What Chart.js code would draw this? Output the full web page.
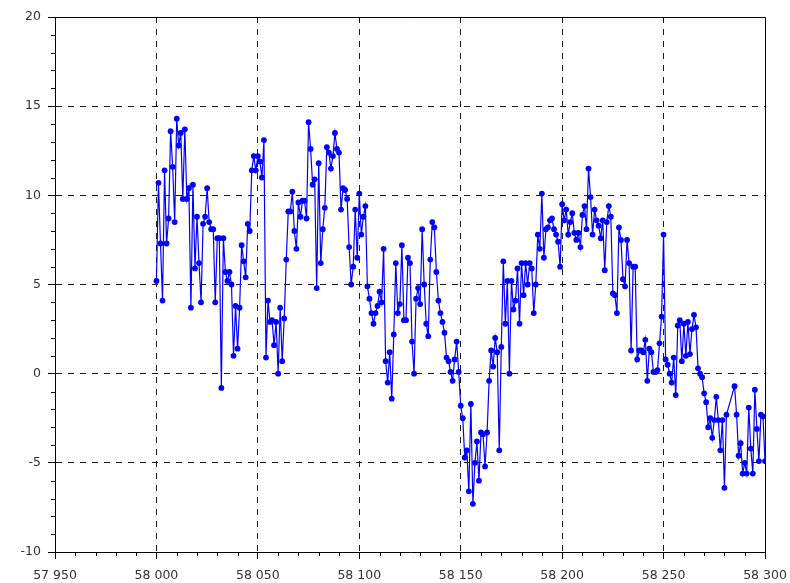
<!DOCTYPE html>
<html>
<head>
<meta charset="utf-8">
<script src="https://cdn.jsdelivr.net/npm/chart.js@4.4.1/dist/chart.umd.min.js"></script>
<style>
  html, body { margin: 0; padding: 0; background: #fff; }
  .chart-container { position: relative; width: 790px; height: 583px; }
</style>
</head>
<body>
<div class="chart-container">
  <canvas id="chart"></canvas>
</div>
<script>
// x range / tick setup
const xMin = 57950, xMax = 58300, xStep = 50, xMinorStep = 10;
const yMin = -10, yMax = 20, yStep = 5, yMinorStep = 1;

// observation days
const days = [
  58000, 58001, 58002, 58003, 58004, 58005, 58006, 58007, 58008, 58009,
  58010, 58011, 58012, 58013, 58014, 58015, 58016, 58017, 58018, 58019,
  58020, 58021, 58022, 58023, 58024, 58025, 58026, 58027, 58028, 58029,
  58030, 58031, 58032, 58033, 58034, 58035, 58036, 58037, 58038, 58039,
  58040, 58041, 58042, 58043, 58044, 58045, 58046, 58047, 58048, 58049,
  58050, 58051, 58052, 58053, 58054, 58055, 58056, 58057, 58058, 58059,
  58060, 58061, 58062, 58063, 58064, 58065, 58066, 58067, 58068, 58069,
  58070, 58071, 58072, 58073, 58074, 58075, 58076, 58077, 58078, 58079,
  58080, 58081, 58082, 58083, 58084, 58085, 58086, 58087, 58088, 58089,
  58090, 58091, 58092, 58093, 58094, 58095, 58096, 58097, 58098, 58099,
  58100, 58101, 58102, 58103, 58104, 58105, 58106, 58107, 58108, 58109,
  58110, 58111, 58112, 58113, 58114, 58115, 58116, 58117, 58118, 58119,
  58120, 58121, 58122, 58123, 58124, 58125, 58126, 58127, 58128, 58129,
  58130, 58131, 58132, 58133, 58134, 58135, 58136, 58137, 58138, 58139,
  58140, 58141, 58142, 58143, 58144, 58145, 58146, 58147, 58148, 58149,
  58150, 58151, 58152, 58153, 58154, 58155, 58156, 58157, 58158, 58159,
  58160, 58161, 58162, 58163, 58164, 58165, 58166, 58167, 58168, 58169,
  58170, 58171, 58172, 58173, 58174, 58175, 58176, 58177, 58178, 58179,
  58180, 58181, 58182, 58183, 58184, 58185, 58186, 58187, 58188, 58189,
  58190, 58191, 58192, 58193, 58194, 58195, 58196, 58197, 58198, 58199,
  58200, 58201, 58202, 58203, 58204, 58205, 58206, 58207, 58208, 58209,
  58210, 58211, 58212, 58213, 58214, 58215, 58216, 58217, 58218, 58219,
  58220, 58221, 58222, 58223, 58224, 58225, 58226, 58227, 58228, 58229,
  58230, 58231, 58232, 58233, 58234, 58235, 58236, 58237, 58238, 58239,
  58240, 58241, 58242, 58243, 58244, 58245, 58246, 58247, 58248, 58249,
  58250, 58251, 58252, 58253, 58254, 58255, 58256, 58257, 58258, 58259,
  58260, 58261, 58262, 58263, 58264, 58265, 58266, 58267, 58268, 58269,
  58270, 58271, 58272, 58273, 58274, 58275, 58276, 58277, 58278, 58279,
  58280, 58281, 58285, 58286, 58287, 58288, 58289, 58290, 58291, 58292,
  58293, 58294, 58295, 58296, 58297, 58298, 58299, 58300
];

// measured values
const values = [
  5.2, 10.7, 7.3, 4.1, 11.4, 7.3, 8.7, 13.6, 11.6, 8.5,
  14.3, 12.8, 13.5, 9.8, 13.7, 9.8, 10.4, 3.7, 10.6, 5.9,
  8.8, 6.2, 4.0, 8.4, 8.8, 10.4, 8.5, 8.1, 8.1, 4.0,
  7.6, 7.6, -0.8, 7.6, 5.7, 5.2, 5.7, 5.0, 1.0, 3.8,
  1.4, 3.7, 7.2, 6.3, 5.4, 8.4, 8.0, 11.4, 12.2, 11.4,
  12.2, 11.9, 11.0, 13.1, 0.9, 4.1, 2.9, 3.0, 1.6, 2.9,
  0.0, 3.7, 0.7, 3.1, 6.4, 9.1, 9.1, 10.2, 8.0, 7.0,
  9.6, 8.8, 9.7, 9.7, 8.7, 14.1, 12.6, 10.6, 10.9, 4.8,
  11.8, 6.2, 8.1, 9.3, 12.7, 12.4, 11.5, 12.2, 13.5, 12.6,
  12.4, 9.2, 10.4, 10.3, 9.8, 7.1, 5.0, 6.0, 9.2, 6.5,
  10.1, 7.8, 8.8, 9.4, 4.9, 4.2, 3.4, 2.8, 3.4, 3.8,
  4.6, 4.0, 7.0, 0.7, -0.5, 1.2, -1.4, 2.2, 6.2, 3.4,
  3.9, 7.2, 3.0, 3.0, 6.5, 6.2, 1.8, 0.0, 4.2, 4.8,
  3.9, 8.1, 5.0, 2.8, 2.1, 6.4, 8.5, 8.2, 5.7, 4.1,
  3.4, 2.9, 2.3, 0.9, 0.7, 0.1, -0.4, 0.8, 1.8, 0.1,
  -1.8, -2.5, -4.7, -4.3, -6.6, -1.7, -7.3, -5.0, -3.8, -6.0,
  -3.3, -3.4, -5.2, -3.3, -0.4, 1.3, 0.4, 2.0, 1.2, -4.3,
  1.5, 6.3, 2.8, 5.2, 0.0, 5.2, 3.6, 4.1, 5.9, 2.8,
  6.2, 4.4, 6.2, 5.0, 6.2, 5.9, 3.4, 5.0, 7.8, 7.0,
  10.1, 6.5, 8.1, 8.2, 8.6, 8.7, 8.1, 7.8, 7.4, 6.0,
  9.5, 8.6, 9.2, 7.8, 8.5, 9.0, 7.9, 7.5, 7.9, 7.1,
  8.9, 9.4, 8.1, 11.5, 9.9, 7.8, 9.2, 8.6, 8.3, 7.6,
  8.6, 5.8, 8.5, 9.4, 8.8, 4.5, 4.4, 3.4, 8.2, 7.5,
  5.3, 4.9, 7.5, 6.2, 1.3, 6.0, 6.0, 0.8, 1.3, 1.3,
  1.2, 1.9, -0.4, 1.4, 1.2, 0.1, 0.1, 0.2, 1.7, 3.2,
  7.8, 0.8, 0.5, 0.0, -0.5, 0.9, -1.2, 2.7, 3.0, 0.7,
  2.8, 1.0, 2.9, 1.1, 2.5, 3.3, 2.6, 0.3, 0.0, -0.2,
  -1.1, -1.6, -3.0, -2.5, -3.6, -2.6, -1.3, -2.6, -4.3, -2.6,
  -6.4, -2.3, -0.7, -2.3, -4.6, -3.9, -5.6, -5.0, -5.6, -1.9,
  -4.2, -5.6, -0.9, -3.1, -4.9, -2.3, -2.4, -4.9
];

const points = days.map((d, i) => ({ x: d, y: values[i] }));

const fmt = v => String(v).replace(/\B(?=(\d{3})+(?!\d))/g, ' ');

// closes the box and draws the small minor ticks outside the axes
const framePlugin = {
  id: 'frame',
  afterDraw(chart) {
    const { ctx, chartArea: a, scales: { x, y } } = chart;
    ctx.save();
    ctx.strokeStyle = '#000';
    ctx.lineWidth = 1;
    ctx.beginPath();
    ctx.moveTo(a.left, a.top + 0.5);
    ctx.lineTo(a.right + 0.5, a.top + 0.5);
    ctx.lineTo(a.right + 0.5, a.bottom);
    ctx.stroke();
    ctx.beginPath();
    for (let v = xMin; v <= xMax; v += xMinorStep) {
      if (v % xStep === 0) continue;
      const px = Math.round(x.getPixelForValue(v)) + 0.5;
      ctx.moveTo(px, a.bottom);
      ctx.lineTo(px, a.bottom + 4);
    }
    for (let v = yMin; v <= yMax; v += yMinorStep) {
      if (v % yStep === 0) continue;
      const py = Math.round(y.getPixelForValue(v)) + 0.5;
      ctx.moveTo(a.left - 4, py);
      ctx.lineTo(a.left, py);
    }
    ctx.stroke();
    ctx.restore();
  }
};

const edgeTransparent = (min, max) => c => {
  const v = c.tick && c.tick.value;
  return (v === min || v === max) ? 'rgba(0,0,0,0)' : '#1a1a1a';
};

const labelFont = { family: 'DejaVu Sans, sans-serif', size: 12.5 };

new Chart(document.getElementById('chart').getContext('2d'), {
  type: 'line',
  data: {
    datasets: [{
      data: points,
      borderColor: '#0000ff',
      backgroundColor: '#0000ff',
      borderWidth: 1.2,
      pointRadius: 2.9,
      pointHoverRadius: 2.9,
      pointBorderWidth: 0,
      tension: 0
    }]
  },
  options: {
    responsive: true,
    maintainAspectRatio: false,
    animation: false,
    layout: { padding: { top: 17, right: 25, left: 0, bottom: 0 } },
    plugins: { legend: { display: false }, tooltip: { enabled: false } },
    scales: {
      x: {
        type: 'linear',
        min: xMin,
        max: xMax,
        afterFit: s => { s.height = 31; s.paddingLeft = 0; s.paddingRight = 0; },
        ticks: {
          stepSize: xStep,
          padding: 9,
          color: '#333',
          font: labelFont,
          maxRotation: 0,
          callback: v => fmt(v)
        },
        grid: {
          color: edgeTransparent(xMin, xMax),
          lineWidth: 1,
          tickColor: '#000',
          tickLength: 7
        },
        border: { display: true, color: '#000', width: 1, dash: [6, 6] }
      },
      y: {
        min: yMin,
        max: yMax,
        afterFit: s => { s.width = 55; s.paddingTop = 0; s.paddingBottom = 0; },
        ticks: {
          stepSize: yStep,
          padding: 7,
          color: '#333',
          font: labelFont
        },
        grid: {
          color: edgeTransparent(yMin, yMax),
          lineWidth: 1,
          tickColor: '#000',
          tickLength: 7
        },
        border: { display: true, color: '#000', width: 1, dash: [6, 6] }
      }
    }
  },
  plugins: [framePlugin]
});
</script>
</body>
</html>
